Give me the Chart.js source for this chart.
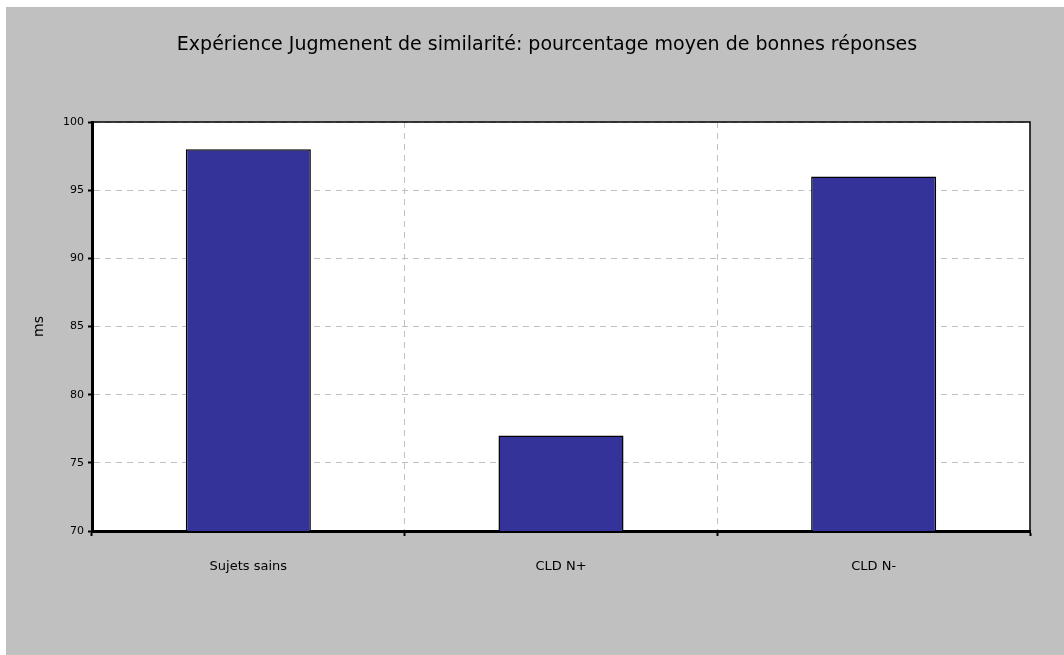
<!DOCTYPE html>
<html>
<head>
<meta charset="utf-8">
<script src="https://cdn.jsdelivr.net/npm/chart.js@4/dist/chart.umd.min.js"></script>
<style>
  html, body { margin: 0; padding: 0; background: #ffffff; }
  #wrap { position: absolute; left: 6px; top: 7px; width: 1058px; height: 648px; }
</style>
</head>
<body>
<div id="wrap"><canvas id="c"></canvas></div>
<script>
const categories = ["Sujets sains", "CLD N+", "CLD N-"];
const values = [98, 77, 96];
const titleText = "Expérience Jugmenent de similarité: pourcentage moyen de bonnes réponses";
const yTitle = "ms";
const yMin = 70, yMax = 100, yStep = 5;

const bgPlugin = {
  id: 'bg',
  beforeDraw(chart) {
    const ctx = chart.ctx, a = chart.chartArea;
    ctx.save();
    ctx.fillStyle = '#c0c0c0';
    ctx.fillRect(0, 0, chart.width, chart.height);
    ctx.fillStyle = '#ffffff';
    ctx.fillRect(a.left, a.top, a.right - a.left, a.bottom - a.top);
    ctx.restore();
  },
  afterDraw(chart) {
    const ctx = chart.ctx, a = chart.chartArea;
    ctx.save();
    ctx.strokeStyle = '#000000';
    ctx.lineWidth = 1.5;
    ctx.beginPath();
    ctx.moveTo(a.left, a.top);
    ctx.lineTo(a.right, a.top);
    ctx.lineTo(a.right, a.bottom);
    ctx.stroke();
    // chart title
    ctx.fillStyle = '#000000';
    ctx.font = 'normal 19px "DejaVu Sans"';
    ctx.textAlign = 'center';
    ctx.textBaseline = 'middle';
    ctx.fillText(titleText, 541, 38);
    ctx.restore();
  }
};

new Chart(document.getElementById('c'), {
  type: 'bar',
  data: {
    labels: categories,
    datasets: [{
      data: values,
      backgroundColor: '#333399',
      borderColor: '#000000',
      borderWidth: 1.5,
      categoryPercentage: 1.0,
      barPercentage: 0.4
    }]
  },
  options: {
    responsive: true,
    maintainAspectRatio: false,
    animation: false,
    layout: { padding: { top: 115, left: 0, right: 34, bottom: 0 } },
    plugins: {
      legend: { display: false },
      tooltip: { enabled: false },
      title: { display: false }
    },
    scales: {
      x: {
        grid: {
          offset: true,
          color: '#c0c0c0',
          lineWidth: 1,
          tickLength: 5,
          tickColor: '#000000',
          tickWidth: 2,
          tickBorderDash: []
        },
        border: { display: true, color: '#000000', width: 3, dash: [6, 5] },
        ticks: {
          color: '#000000',
          padding: 23,
          font: { family: 'DejaVu Sans', size: 13 }
        },
        afterFit(scale) { scale.height = 124; }
      },
      y: {
        min: yMin,
        max: yMax,
        ticks: {
          stepSize: yStep,
          color: '#000000',
          padding: 4,
          font: { family: 'DejaVu Sans', size: 11 }
        },
        grid: {
          color: '#c0c0c0',
          lineWidth: 1,
          tickLength: 4,
          tickColor: '#000000',
          tickWidth: 2,
          tickBorderDash: []
        },
        border: { display: true, color: '#000000', width: 3, dash: [6, 5] },
        title: {
          display: true,
          text: yTitle,
          color: '#000000',
          font: { family: 'DejaVu Sans', size: 14 },
          padding: { top: 25, bottom: 0 }
        },
        afterFit(scale) { scale.width = 86; }
      }
    }
  },
  plugins: [bgPlugin]
});
</script>
</body>
</html>
